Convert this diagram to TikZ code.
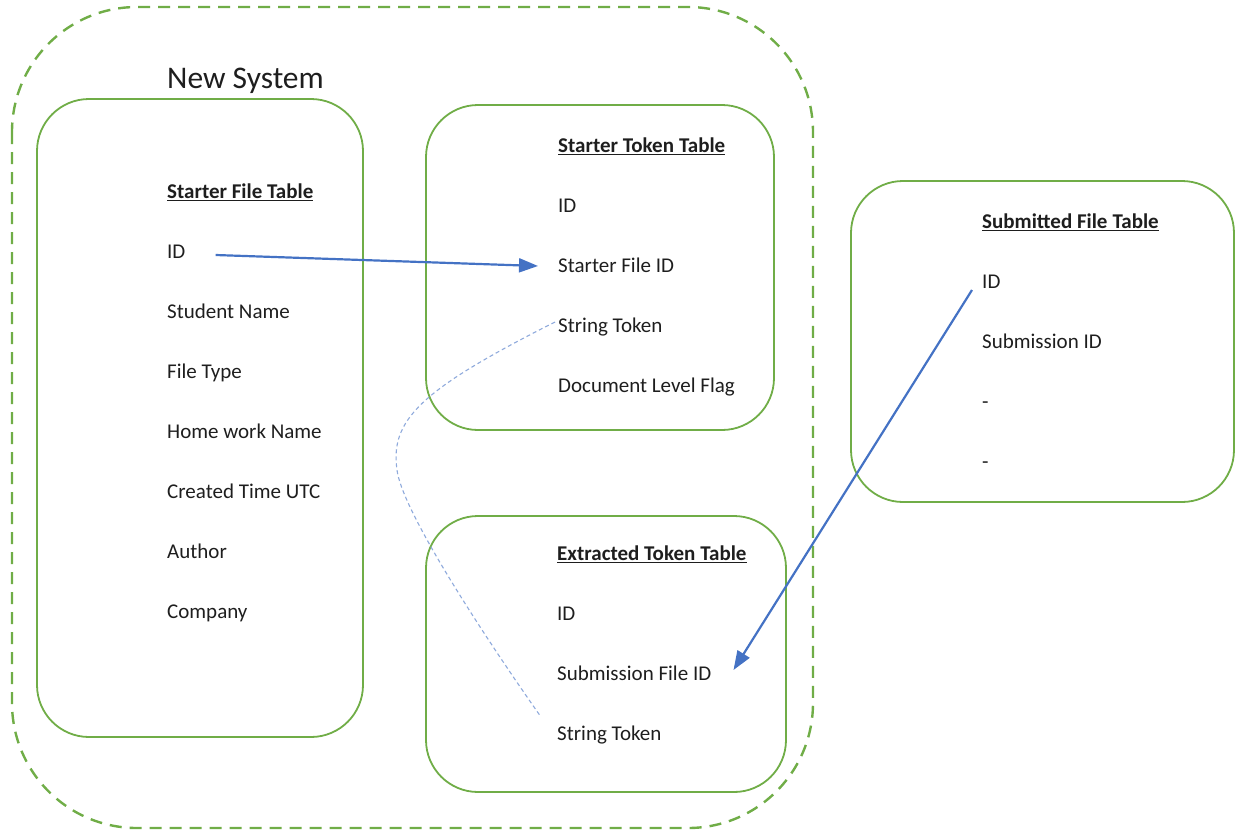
\documentclass[tikz,border=0pt]{standalone}
\usepackage{fontspec}
\setmainfont{Carlito}
\usetikzlibrary{arrows.meta}
\definecolor{boxgreen}{RGB}{112,173,71}
\definecolor{linkblue}{RGB}{68,114,196}
\definecolor{softblue}{RGB}{143,170,220}
\definecolor{ink}{RGB}{30,30,30}
\newcommand{\gap}{\hspace{5pt}}
\tikzset{
  table/.style={draw=boxgreen, line width=1.8pt, rounded corners=52pt},
  system/.style={draw=boxgreen, line width=2.4pt, dash pattern=on 12pt off 8pt, rounded corners=125pt},
  field/.style={anchor=west, inner sep=0pt, text height=13.5pt, text depth=0pt,
    text=ink, font=\fontsize{21}{25}\selectfont},
  head/.style={field, font=\fontsize{21}{25}\selectfont\bfseries},
  link/.style={draw=linkblue, line width=2.2pt, -{Triangle[length=19pt,width=14pt]}},
  tokenlink/.style={draw=softblue, line width=1.1pt, dash pattern=on 4pt off 3pt}
}
\begin{document}
\begin{tikzpicture}[x=1pt, y=-1pt]
\useasboundingbox (0,0) rectangle (1235,831);

% system boundary
\draw[system] (12,7) rectangle (813,828);
\node[anchor=base west, inner sep=0pt, text=ink, font=\fontsize{31.5}{36}\selectfont] (title) at (167,88) {New System};

% table frames
\draw[table] (37,99) rectangle (363,737);
\draw[table] (426,105) rectangle (774,430);
\draw[table] (426,516) rectangle (786,792);
\draw[table] (851,181) rectangle (1234,502);

% Starter File Table
\node[head] (sfhead) at (167,192) {\underline{Starter File Table}};
\node[field] (sfid) at (167,252) {ID};
\node[field] (sfname) at (167,312) {Student Name};
\node[field] (sftype) at (167,372) {File Type};
\node[field] (sfhw) at (167,432) {Home work Name};
\node[field] (sftime) at (167,492) {Created Time UTC};
\node[field] (sfauthor) at (167,552) {Author};
\node[field] (sfcompany) at (167,612) {Company};

% Starter Token Table
\node[head] (sthead) at (558,146) {\underline{Starter Token\gap Table}};
\node[field] (stid) at (558,206) {ID};
\node[field] (stfid) at (558,266) {Starter File ID};
\node[field] (sttoken) at (558,326) {String Token};
\node[field] (stflag) at (558,386) {Document Level Flag};

% Extracted Token Table
\node[head] (ethead) at (557,554) {\underline{Extracted Token\gap Table}};
\node[field] (etid) at (557,614) {ID};
\node[field] (etsfid) at (557,674) {Submission File ID};
\node[field] (ettoken) at (557,734) {String Token};

% Submitted File Table
\node[head] (subhead) at (982,222) {\underline{Submitted File\gap Table}};
\node[field] (subid) at (982,282) {ID};
\node[field] (subsid) at (982,342) {Submission ID};
\node[field] (subd1) at (982,402) {-};
\node[field] (subd2) at (982,462) {-};

% references between tables
\draw[link] ([xshift=30pt,yshift=-3pt]sfid.east) -- ([xshift=-20pt]stfid.west);
\draw[link] ([xshift=-10pt,yshift=-8pt]subid.west) -- ([xshift=22pt,yshift=4pt]etsfid.east);

\coordinate (tokfrom) at ([xshift=-3pt,yshift=4pt]sttoken.west);
\coordinate (tokto) at ([xshift=-16pt,yshift=17pt]ettoken.west);
\draw[tokenlink] (tokfrom) .. controls (420,390) and (390,420) .. (397,470)
  .. controls (402,510) and (480,630) .. (tokto);
\end{tikzpicture}
\end{document}
